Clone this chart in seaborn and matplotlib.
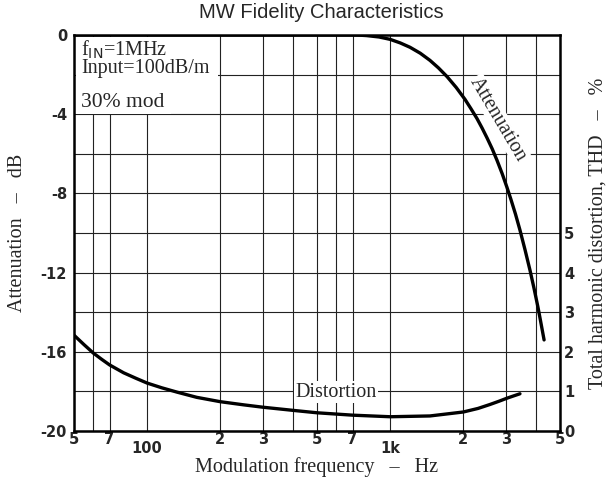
import matplotlib
matplotlib.use("Agg")
import matplotlib.pyplot as plt
from matplotlib.patches import Rectangle
import seaborn as sns
import pandas as pd

# attenuation curve (dB) vs modulation frequency (Hz)
att_freq = [50, 100, 200, 400, 600, 700, 752, 800, 900, 1000, 1100, 1207, 1330, 1458, 1580, 1714,
            1870, 2032, 2150, 2277, 2390, 2505, 2630, 2753, 2890, 3026, 3140, 3280, 3421,
            3590, 3766, 3910, 4058, 4160, 4300]
att_db = [0, 0, 0, 0, 0, 0, -0.01, -0.03, -0.1, -0.22, -0.4, -0.62, -0.92, -1.28, -1.66, -2.1,
          -2.65, -3.25, -3.72, -4.22, -4.7, -5.2, -5.75, -6.33, -7.0, -7.7, -8.3, -9.05, -9.85,
          -10.85, -11.9, -12.8, -13.75, -14.45, -15.4]

# distortion curve (THD %) vs modulation frequency (Hz)
thd_freq = [50, 55, 60, 65, 70, 80, 90, 100, 115, 133, 160, 200, 250, 300, 400, 500, 700,
            1000, 1458, 2000, 2300, 2576, 2800, 3030, 3200, 3421]
thd_pct = [2.42, 2.18, 1.97, 1.81, 1.67, 1.47, 1.33, 1.21, 1.09, 0.98, 0.85, 0.74, 0.66, 0.6,
           0.52, 0.46, 0.40, 0.36, 0.38, 0.48, 0.57, 0.67, 0.75, 0.83, 0.88, 0.94]

grid_freqs = [50, 60, 70, 100, 200, 300, 400, 500, 600, 700, 1000, 2000, 3000, 4000, 5000]
freq_labels = ["5", "", "7", "100", "2", "3", "", "5", "", "7", "1k", "2", "3", "", "5"]
db_grid = [0, -2, -4, -6, -8, -10, -12, -14, -16, -18, -20]
db_labels = ["0", "", "-4", "", "-8", "", "-12", "", "-16", "", "-20"]
thd_ticks = [0, 1, 2, 3, 4, 5]

sns.set_style("white")
serif = ["Liberation Serif", "DejaVu Serif"]
tick_font = dict(family="DejaVu Sans", weight="bold", size=10.5)

fig = plt.figure(figsize=(6.12, 4.83), dpi=100)
ax = fig.add_axes([74 / 612, 1 - 431 / 483, 486 / 612, 396 / 483])
ax.set_axisbelow(True)

att = pd.DataFrame({"freq": att_freq, "db": att_db})
sns.lineplot(data=att, x="freq", y="db", ax=ax, color="black", linewidth=2.4, zorder=5)

ax.set_xscale("log")
ax.set_xlim(50, 5000)
ax.set_ylim(-20, 0)
ax.set_xticks(grid_freqs)
ax.set_xticklabels(freq_labels, fontdict=tick_font)
ax.xaxis.set_minor_locator(matplotlib.ticker.NullLocator())
ax.set_yticks(db_grid)
ax.set_yticklabels(db_labels, fontdict=tick_font)
ax.tick_params(axis="y", length=0, pad=5)
ax.tick_params(axis="x", length=0, pad=1)
ax.grid(True, color="#222222", linewidth=0.8)
for lab in ax.get_xticklabels():
    if lab.get_text() in ("100", "1k"):
        lab.set_y(-0.022)

for side in ["left", "bottom", "top", "right"]:
    ax.spines[side].set_color("black")
    ax.spines[side].set_linewidth(1.8)

ax.set_xlabel("Modulation frequency   \u2013   Hz", family=serif, fontsize=14.5, labelpad=1)
ax.set_ylabel("Attenuation   \u2013   dB", family=serif, fontsize=14.5, labelpad=10)

ax2 = ax.twinx()
thd = pd.DataFrame({"freq": thd_freq, "thd": thd_pct})
sns.lineplot(data=thd, x="freq", y="thd", ax=ax2, color="black", linewidth=2.4, zorder=5)
ax2.set_ylim(0, 10)
ax2.set_yticks(thd_ticks)
ax2.set_yticklabels([str(t) for t in thd_ticks], fontdict=tick_font)
ax2.tick_params(length=0, pad=3)
ax2.grid(False)
for side in ["left", "bottom", "top", "right"]:
    ax2.spines[side].set_visible(False)
ax2.set_ylabel("Total harmonic distortion, THD   \u2013   %", family=serif, fontsize=14.5, labelpad=10)

# white area behind the conditions text
ax.add_patch(Rectangle((0.004, 0.862), 0.292, 0.133, transform=ax.transAxes,
                       facecolor="white", edgecolor="none", zorder=3))
ax.add_patch(Rectangle((0.004, 0.80), 0.195, 0.07, transform=ax.transAxes,
                       facecolor="white", edgecolor="none", zorder=3))

ax.text(0.015, 0.99, "f$_{\\mathrm{IN}}$=1MHz\nInput=100dB/m", transform=ax.transAxes,
        family=serif, fontsize=14.5, va="top", ha="left", linespacing=0.85, zorder=6)
ax.text(0.015, 0.806, "30% mod", transform=ax.transAxes, family=serif, fontsize=15.5,
        va="bottom", ha="left", zorder=6)
ax.text(2780, -4.24, "Attenuation", family=serif, fontsize=14.5, rotation=-59.4,
        ha="center", va="center", rotation_mode="anchor",
        bbox=dict(facecolor="white", edgecolor="none", pad=0.5), zorder=6)
ax.text(598, -18.05, "Distortion", family=serif, fontsize=14.5, ha="center", va="center",
        bbox=dict(facecolor="white", edgecolor="none", pad=1), zorder=6)

fig.text(0.525, 1 - 13 / 483, "MW Fidelity Characteristics", ha="center", va="center",
         fontsize=14.5, family=["Liberation Sans", "DejaVu Sans"])

fig.savefig("out.png", dpi=100)
